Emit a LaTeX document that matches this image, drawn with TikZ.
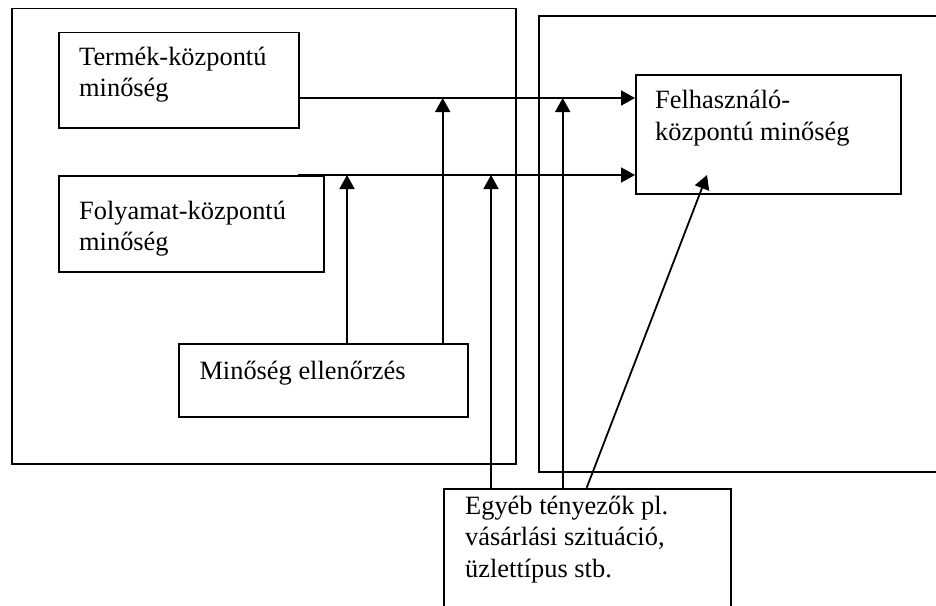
\documentclass[tikz,border=0pt]{standalone}
\usepackage{fontspec}
\setmainfont{Liberation Serif}
\usetikzlibrary{arrows.meta}
\begin{document}
\begin{tikzpicture}[x=1pt,y=-1pt,
  cell/.style={draw, line width=1.9pt, inner sep=0pt, anchor=north west},
  txt/.style={anchor=base west, inner sep=0pt, align=left,
              font=\fontsize{26.4}{31.4}\selectfont},
  arr/.style={line width=1.8pt, -{Triangle[length=14pt,width=15pt]}}]
\useasboundingbox (0,0) rectangle (936,605);
\clip (0,0) rectangle (936,605);

% two large frames
\node[cell, minimum width=504.3pt, minimum height=455.5pt] (left) at (10.7,7.5) {};
\node[cell, minimum width=420pt, minimum height=456pt] (right) at (538,14.7) {};

% boxes
\node[cell, minimum width=240pt, minimum height=95.5pt] (termek) at (58,31.5) {};
\node[cell, minimum width=265pt, minimum height=96pt] (folyamat) at (58,175) {};
\node[cell, minimum width=265pt, minimum height=119pt] (felh) at (635,74) {};
\node[cell, minimum width=289pt, minimum height=73pt] (ell) at (178,343) {};
\node[cell, minimum width=287.3pt, minimum height=150pt] (egyeb) at (442.7,487.7) {};

% box texts (anchored on the baseline of their last line)
\node[txt] (ttermek) at (79,96.7) {Termék-központú\\minőség};
\node[txt] (tfolyamat) at (79,250.7) {Folyamat-központú\\minőség};
\node[txt] (tfelh) at (655,140) {Felhasználó-\\központú minőség};
\node[txt] (tell) at (199.3,379.3) {Minőség ellenőrzés};
\node[txt] (tegyeb) at (465,577) {Egyéb tényezők pl.\\vásárlási szituáció,\\üzlettípus stb.};

% levels and columns of the connectors
\coordinate (r1) at (0,98);
\coordinate (fstart) at (298,175);
\coordinate (c1) at (347,0);
\coordinate (c2) at (442.7,0);
\coordinate (c3) at (491,0);
\coordinate (c4) at (562.7,0);
\coordinate (c5) at (586.7,0);
\coordinate (dtip) at (707,175);

% horizontal flows into the user-centred quality box
\draw[arr] (termek.east |- r1) -- (felh.west |- r1);
\draw[arr] (fstart) -- (felh.west |- fstart);

% quality control feeding both flows
\draw[arr] (ell.north -| c1) -- (c1 |- fstart);
\draw[arr] (ell.north -| c2) -- (c2 |- r1);

% other factors
\draw[arr] (egyeb.north -| c3) -- (c3 |- fstart);
\draw[arr] (egyeb.north -| c4) -- (c4 |- r1);
\draw[arr] (egyeb.north -| c5) -- (dtip);
\end{tikzpicture}
\end{document}
